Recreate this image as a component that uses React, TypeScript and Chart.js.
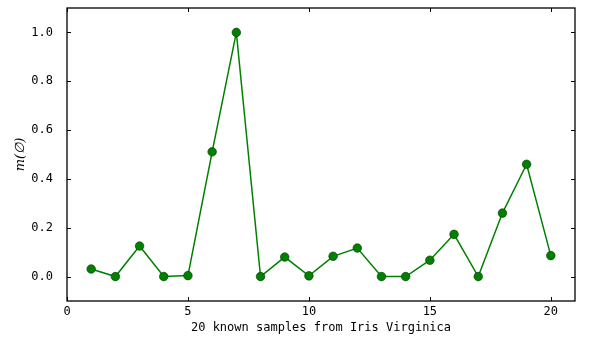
import React, { useEffect, useRef } from "react";
import { Chart, registerables } from "chart.js";

Chart.register(...registerables);

const samples = [1, 2, 3, 4, 5, 6, 7, 8, 9, 10, 11, 12, 13, 14, 15, 16, 17, 18, 19, 20];
const massValues = [0.031, 0.0, 0.125, 0.0, 0.004, 0.511, 1.0, 0.0, 0.08, 0.003, 0.083, 0.117, 0.0, 0.0, 0.067, 0.173, 0.0, 0.26, 0.46, 0.086];
const xTickValues = [0, 5, 10, 15, 20];
const yTickValues = [0, 0.2, 0.4, 0.6, 0.8, 1.0];

const FONT = "'DejaVu Sans Mono', 'Liberation Mono', monospace";

const frameAndTicks = {
  id: "frameAndTicks",
  afterDraw(chart: any) {
    const { ctx, chartArea } = chart;
    const { left, right, top, bottom } = chartArea;
    const xs = chart.scales.x;
    const ys = chart.scales.y;
    ctx.save();
    ctx.strokeStyle = "#000";
    ctx.lineWidth = 1;
    const len = 4;
    ctx.beginPath();
    xTickValues.forEach((v) => {
      const px = Math.round(xs.getPixelForValue(v)) + 0.5;
      ctx.moveTo(px, bottom);
      ctx.lineTo(px, bottom - len);
      ctx.moveTo(px, top);
      ctx.lineTo(px, top + len);
    });
    yTickValues.forEach((v) => {
      const py = Math.round(ys.getPixelForValue(v)) + 0.5;
      ctx.moveTo(left, py);
      ctx.lineTo(left + len, py);
      ctx.moveTo(right, py);
      ctx.lineTo(right - len, py);
    });
    ctx.stroke();
    ctx.lineWidth = 1.3;
    ctx.strokeRect(left, top, right - left, bottom - top);
    ctx.restore();
  },
};

export default function App() {
  const ref = useRef<HTMLCanvasElement | null>(null);
  useEffect(() => {
    if (!ref.current) return;
    const chart = new Chart(ref.current, {
      type: "line",
      data: {
        datasets: [
          {
            data: samples.map((x, i) => ({ x, y: massValues[i] })),
            borderColor: "#008000",
            borderWidth: 1.5,
            backgroundColor: "#008000",
            pointBackgroundColor: "#008000",
            pointBorderColor: "#003300",
            pointBorderWidth: 0.6,
            pointRadius: 4.3,
            tension: 0,
          },
        ],
      },
      options: {
        responsive: false,
        animation: false,
        layout: { padding: { top: 8, right: 15, left: 0, bottom: 0 } },
        plugins: { legend: { display: false }, tooltip: { enabled: false } },
        scales: {
          x: {
            type: "linear",
            min: 0,
            max: 21,
            grid: { display: false },
            border: { display: false },
            afterBuildTicks: (s: any) => {
              s.ticks = xTickValues.map((value) => ({ value }));
            },
            afterFit: (s: any) => {
              s.height = 38;
              s.paddingLeft = 0;
              s.paddingRight = 0;
            },
            ticks: {
              padding: -4,
              color: "#000",
              font: { family: FONT, size: 12 },
              maxRotation: 0,
              autoSkip: false,
            },
            title: {
              display: true,
              text: "20 known samples from Iris Virginica",
              color: "#000",
              font: { family: FONT, size: 12 },
              padding: { top: 1, bottom: 4 },
            },
          },
          y: {
            type: "linear",
            min: -0.1,
            max: 1.1,
            grid: { display: false },
            border: { display: false },
            afterBuildTicks: (s: any) => {
              s.ticks = yTickValues.map((value) => ({ value }));
            },
            afterFit: (s: any) => {
              s.width = 67;
              s.paddingTop = 0;
              s.paddingBottom = 0;
            },
            ticks: {
              padding: 6,
              color: "#000",
              font: { family: FONT, size: 12 },
              autoSkip: false,
              callback: (v: any) => Number(v).toFixed(1),
            },
            title: {
              display: true,
              text: "m(∅)",
              color: "#000",
              font: { family: "'DejaVu Serif', serif", size: 13, style: "italic" },
              padding: { top: 13, bottom: 0 },
            },
          },
        },
      },
      plugins: [frameAndTicks],
    } as any);
    return () => chart.destroy();
  }, []);
  return (
    <div style={{ position: "fixed", left: 0, top: 0, width: 590, height: 339, background: "#fff" }}>
      <canvas ref={ref} width={590} height={339} style={{ width: 590, height: 339 }} />
    </div>
  );
}
